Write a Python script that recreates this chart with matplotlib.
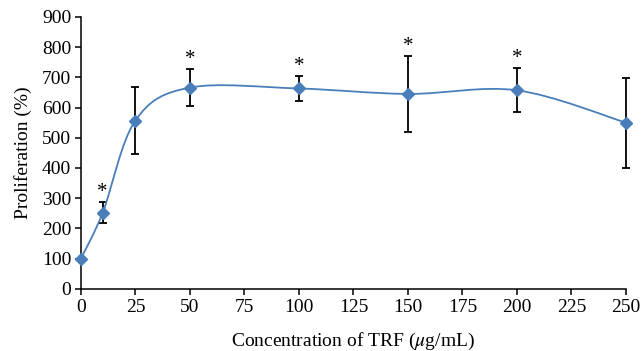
import numpy as np
import matplotlib
matplotlib.use("Agg")
import matplotlib.pyplot as plt
from matplotlib.path import Path
from matplotlib.patches import PathPatch

# data
conc = [0, 10, 25, 50, 100, 150, 200, 250]
prolif = [100, 252, 557, 666, 663, 645, 657, 550]
err = [0, 34, 110, 60, 42, 125, 73, 149]
signif = [False, True, False, True, True, True, True, False]

plt.rcParams['font.family'] = ['Liberation Serif', 'DejaVu Serif']
plt.rcParams['mathtext.fontset'] = 'stix'

blue = '#4A7EBB'

fig = plt.figure(figsize=(6.42, 3.51), dpi=100)
ax = fig.add_axes([0.126, 0.177, 0.849, 0.775])

# smoothed line (Excel-like bezier through the points)
x = np.array(conc, float)
y = np.array(prolif, float)
verts = [(x[0], y[0])]
codes = [Path.MOVETO]
n = len(x)
for i in range(n - 1):
    p0 = (x[max(i - 1, 0)], y[max(i - 1, 0)])
    p1 = (x[i], y[i])
    p2 = (x[i + 1], y[i + 1])
    p3 = (x[min(i + 2, n - 1)], y[min(i + 2, n - 1)])
    c1 = (p1[0] + (p2[0] - p0[0]) / 6, p1[1] + (p2[1] - p0[1]) / 6)
    c2 = (p2[0] - (p3[0] - p1[0]) / 6, p2[1] - (p3[1] - p1[1]) / 6)
    verts += [c1, c2, p2]
    codes += [Path.CURVE4] * 3
ax.add_patch(PathPatch(Path(verts, codes), facecolor='none', edgecolor=blue,
                       lw=1.3, zorder=2, clip_on=False))

ax.errorbar(conc, prolif, yerr=err, fmt='none', ecolor='black', elinewidth=1.3,
            capsize=2.8, capthick=1.3, zorder=1, clip_on=False)
ax.plot(conc, prolif, linestyle='none', marker='D', markersize=6.5, color=blue,
        zorder=3, clip_on=False)

for xi, yi, ei, s in zip(conc, prolif, err, signif):
    if s:
        ax.annotate('*', (xi, yi + ei), xytext=(0, 0), textcoords='offset points',
                    ha='center', va='bottom', fontsize=15)

ax.set_xlim(0, 250)
ax.set_ylim(0, 900)
ax.set_xticks(np.arange(0, 251, 25))
ax.set_yticks(np.arange(0, 901, 100))
for s in ['top', 'right']:
    ax.spines[s].set_visible(False)
for s in ['left', 'bottom']:
    ax.spines[s].set_linewidth(1.1)
ax.tick_params(direction='out', length=4, width=1.1, labelsize=14, pad=3)
ax.set_xlabel(r'Concentration of TRF ($\mu$g/mL)', fontsize=14, labelpad=11)
ax.set_ylabel('Proliferation (%)', fontsize=14, labelpad=7)

fig.savefig('out.png', dpi=100)
